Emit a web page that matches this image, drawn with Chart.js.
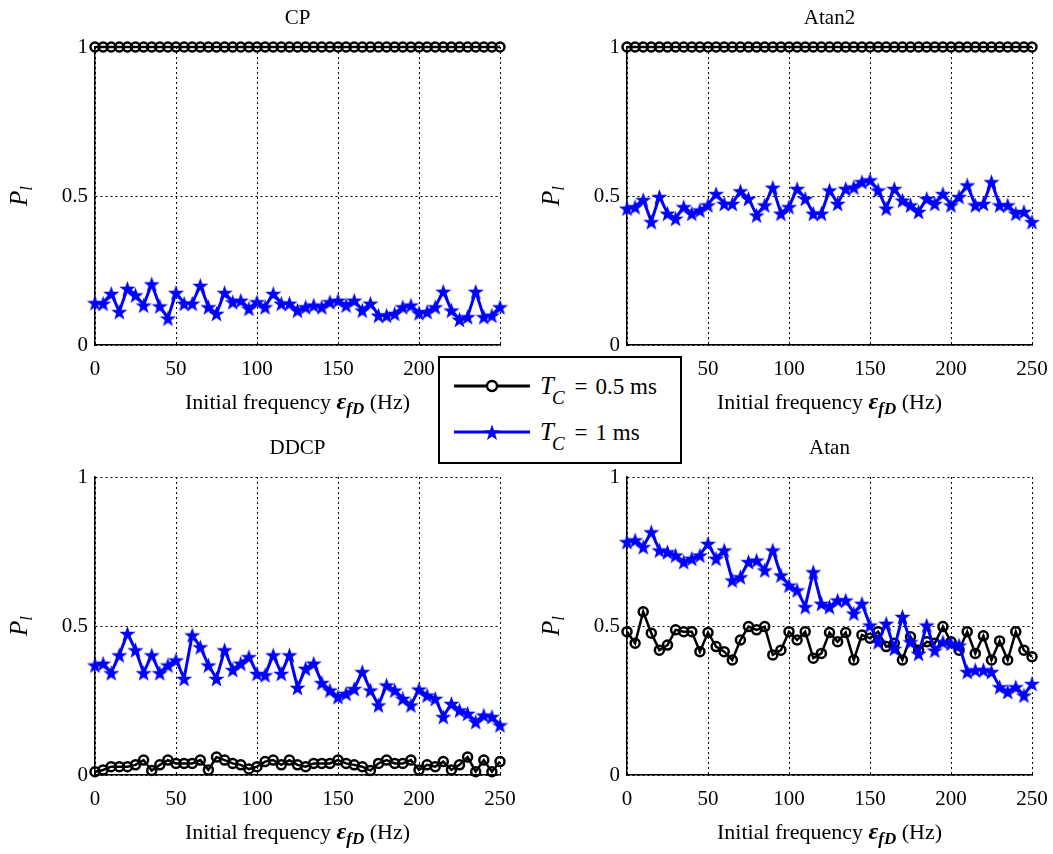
<!DOCTYPE html>
<html>
<head>
<meta charset="utf-8">
<script src="https://cdn.jsdelivr.net/npm/chart.js@4"></script>
<style>
  html, body { margin: 0; padding: 0; background: #fff; }
  #wrap { position: relative; width: 1053px; height: 854px; overflow: hidden; }
  .panel { position: absolute; }
  #legend {
    position: absolute; left: 438px; top: 356px; width: 240px; height: 104px;
    border: 2px solid #000; background: #fff;
    font-family: "Liberation Serif", serif; font-size: 23px; color: #000;
  }
  #legend .row { position: absolute; left: 12px; height: 30px; }
  #legend svg { position: absolute; left: 0; top: 0; }
  #legend .txt { position: absolute; left: 88px; top: 0; white-space: nowrap; line-height: 30px; }
  #legend i { font-style: italic; font-size: 25px; }
  #legend sub { font-style: italic; font-size: 19px; vertical-align: -10px; line-height: 0; margin-left: -2px; }
  #legend .eq { margin: 0 8px 0 10px; }
</style>
</head>
<body>
<div id="wrap">
  <canvas class="panel" id="cp" style="left:0;top:0"></canvas>
  <canvas class="panel" id="atan2" style="left:526px;top:0"></canvas>
  <canvas class="panel" id="ddcp" style="left:0;top:427px"></canvas>
  <canvas class="panel" id="atan" style="left:526px;top:427px"></canvas>
  <div id="legend">
    <div class="row" style="top:13px">
      <svg width="80" height="30"><line x1="2" y1="15" x2="78" y2="15" stroke="#000" stroke-width="3"/><circle cx="40" cy="15" r="5" fill="#fff" stroke="#000" stroke-width="2.5"/></svg>
      <div class="txt"><i>T</i><sub>C</sub><span class="eq">=</span>0.5 ms</div>
    </div>
    <div class="row" style="top:59px">
      <svg width="80" height="30"><line x1="2" y1="15" x2="78" y2="15" stroke="#0000ff" stroke-width="3"/><polygon id="legStar" fill="#0000ff"/></svg>
      <div class="txt"><i>T</i><sub>C</sub><span class="eq">=</span>1 ms</div>
    </div>
  </div>
</div>
<script>
// frequency offsets (Hz)
var freq = [0, 5, 10, 15, 20, 25, 30, 35, 40, 45, 50, 55, 60, 65, 70, 75, 80, 85, 90, 95,
  100, 105, 110, 115, 120, 125, 130, 135, 140, 145, 150, 155, 160, 165, 170, 175, 180, 185, 190, 195,
  200, 205, 210, 215, 220, 225, 230, 235, 240, 245, 250];

var xTicks = [0, 50, 100, 150, 200, 250];
var yTicks = [0, 0.5, 1];

// CP
var cpHalf = [1, 1, 1, 1, 1, 1, 1, 1, 1, 1, 1, 1, 1, 1, 1, 1, 1, 1, 1, 1, 1, 1, 1, 1, 1, 1,
  1, 1, 1, 1, 1, 1, 1, 1, 1, 1, 1, 1, 1, 1, 1, 1, 1, 1, 1, 1, 1, 1, 1, 1, 1];
var cpOne = [0.142, 0.14, 0.173, 0.112, 0.19, 0.168, 0.134, 0.205, 0.131, 0.09, 0.176, 0.14, 0.14,
  0.2, 0.128, 0.106, 0.176, 0.145, 0.15, 0.123, 0.145, 0.128, 0.173, 0.14, 0.14, 0.117, 0.128,
  0.134, 0.128, 0.145, 0.15, 0.134, 0.15, 0.117, 0.14, 0.1, 0.1, 0.106, 0.128, 0.134, 0.108,
  0.112, 0.128, 0.18, 0.117, 0.086, 0.095, 0.18, 0.095, 0.1, 0.128];

// Atan2
var atan2Half = [1, 1, 1, 1, 1, 1, 1, 1, 1, 1, 1, 1, 1, 1, 1, 1, 1, 1, 1, 1, 1, 1, 1, 1, 1, 1,
  1, 1, 1, 1, 1, 1, 1, 1, 1, 1, 1, 1, 1, 1, 1, 1, 1, 1, 1, 1, 1, 1, 1, 1, 1];
var atan2One = [0.459, 0.464, 0.488, 0.414, 0.498, 0.442, 0.425, 0.464, 0.442, 0.453, 0.47, 0.508,
  0.475, 0.475, 0.517, 0.492, 0.436, 0.47, 0.529, 0.442, 0.464, 0.525, 0.492, 0.442, 0.442, 0.52,
  0.475, 0.525, 0.53, 0.548, 0.554, 0.52, 0.459, 0.525, 0.486, 0.47, 0.448, 0.492, 0.475, 0.508,
  0.47, 0.498, 0.537, 0.47, 0.475, 0.548, 0.47, 0.47, 0.442, 0.448, 0.414];

// DDCP
var ddcpHalf = [0.011, 0.017, 0.028, 0.028, 0.028, 0.034, 0.05, 0.015, 0.034, 0.05, 0.039, 0.039,
  0.039, 0.05, 0.017, 0.06, 0.05, 0.039, 0.034, 0.02, 0.028, 0.045, 0.05, 0.034, 0.05, 0.034,
  0.028, 0.039, 0.039, 0.039, 0.05, 0.039, 0.034, 0.028, 0.015, 0.039, 0.05, 0.039, 0.039, 0.05,
  0.017, 0.034, 0.028, 0.045, 0.017, 0.034, 0.06, 0.011, 0.05, 0.011, 0.045];
var ddcpOne = [0.369, 0.375, 0.343, 0.403, 0.475, 0.42, 0.343, 0.403, 0.343, 0.369, 0.386, 0.324,
  0.47, 0.43, 0.369, 0.324, 0.42, 0.354, 0.375, 0.397, 0.341, 0.336, 0.403, 0.341, 0.403, 0.294,
  0.358, 0.375, 0.31, 0.285, 0.263, 0.274, 0.29, 0.347, 0.285, 0.235, 0.302, 0.285, 0.257, 0.235,
  0.288, 0.268, 0.257, 0.196, 0.24, 0.218, 0.207, 0.179, 0.201, 0.196, 0.168];

// Atan
var atanHalf = [0.481, 0.442, 0.548, 0.476, 0.419, 0.436, 0.487, 0.481, 0.481, 0.414, 0.478, 0.431,
  0.414, 0.386, 0.453, 0.498, 0.487, 0.498, 0.403, 0.419, 0.481, 0.453, 0.481, 0.392, 0.408, 0.478,
  0.447, 0.478, 0.386, 0.47, 0.459, 0.481, 0.431, 0.442, 0.386, 0.464, 0.419, 0.447, 0.442, 0.498,
  0.447, 0.419, 0.481, 0.408, 0.467, 0.386, 0.45, 0.386, 0.481, 0.419, 0.397];
var atanOne = [0.783, 0.789, 0.766, 0.816, 0.755, 0.749, 0.738, 0.716, 0.727, 0.738, 0.777, 0.727,
  0.755, 0.654, 0.665, 0.716, 0.721, 0.688, 0.755, 0.671, 0.637, 0.621, 0.565, 0.682, 0.576, 0.565,
  0.587, 0.587, 0.543, 0.576, 0.503, 0.447, 0.509, 0.425, 0.532, 0.447, 0.408, 0.503, 0.419, 0.447,
  0.442, 0.436, 0.347, 0.353, 0.353, 0.347, 0.296, 0.28, 0.296, 0.268, 0.307];

var SERIF = '"Liberation Serif", "DejaVu Serif", serif';
var BLUE = '#0000ff';

function starPoints(cx, cy, R) {
  var pts = [];
  for (var k = 0; k < 10; k++) {
    var r = k % 2 ? R * 0.4 : R;
    var a = -Math.PI / 2 + k * Math.PI / 5;
    pts.push([cx + r * Math.cos(a), cy + r * Math.sin(a)]);
  }
  return pts;
}

function makeStar(size, color) {
  var c = document.createElement('canvas');
  c.width = size; c.height = size;
  var g = c.getContext('2d');
  g.fillStyle = color;
  g.beginPath();
  starPoints(size / 2, size / 2 + 1, size / 2).forEach(function (p) { g.lineTo(p[0], p[1]); });
  g.closePath();
  g.fill();
  return c;
}
var starImg = makeStar(17, BLUE);
document.getElementById('legStar').setAttribute('points',
  starPoints(40, 16, 8.5).map(function (p) { return p[0].toFixed(1) + ',' + p[1].toFixed(1); }).join(' '));

function toXY(vals) {
  return vals.map(function (v, i) { return { x: freq[i], y: v }; });
}

function drawRich(ctx, parts, cx, cy) {
  var total = 0;
  parts.forEach(function (p) { ctx.font = p.font; p.w = ctx.measureText(p.text).width; total += p.w; });
  var x = cx - total / 2;
  parts.forEach(function (p) {
    ctx.font = p.font;
    ctx.fillText(p.text, x, cy + (p.dy || 0));
    x += p.w;
  });
}

var panelText = {
  id: 'panelText',
  afterDraw: function (chart, args, opts) {
    var ctx = chart.ctx, a = chart.chartArea;
    var cx = (a.left + a.right) / 2;
    ctx.save();
    ctx.fillStyle = '#000';
    ctx.textBaseline = 'middle';
    ctx.textAlign = 'left';
    drawRich(ctx, [{ text: opts.title, font: '21px ' + SERIF }], cx, a.top - 29);
    drawRich(ctx, [
      { text: 'Initial frequency ', font: '22px ' + SERIF },
      { text: 'ε', font: 'italic bold 24px ' + SERIF },
      { text: 'fD', font: 'italic bold 17px ' + SERIF, dy: 7 },
      { text: ' (Hz)', font: '22px ' + SERIF }
    ], cx, a.bottom + 58);
    ctx.translate(a.left - 75, (a.top + a.bottom) / 2);
    ctx.rotate(-Math.PI / 2);
    drawRich(ctx, [
      { text: 'P', font: 'italic 25px ' + SERIF },
      { text: 'l', font: 'italic 17px ' + SERIF, dy: 8 }
    ], 0, 0);
    ctx.restore();
  }
};

function makePanel(id, title, half, one, box) {
  var canvas = document.getElementById(id);
  canvas.width = box.w; canvas.height = box.h;
  canvas.style.width = box.w + 'px'; canvas.style.height = box.h + 'px';
  return new Chart(canvas, {
    type: 'line',
    data: {
      datasets: [
        {
          label: 'T_C = 1 ms',
          data: toXY(one),
          borderColor: BLUE,
          borderWidth: 3,
          pointStyle: starImg,
          pointRadius: 8,
          clip: false
        },
        {
          label: 'T_C = 0.5 ms',
          data: toXY(half),
          borderColor: '#000',
          backgroundColor: 'rgba(255,255,255,0)',
          borderWidth: 2.5,
          pointStyle: 'circle',
          pointRadius: 4.5,
          pointBorderWidth: 2.5,
          clip: false
        }
      ]
    },
    options: {
      responsive: false,
      animation: false,
      devicePixelRatio: 1,
      layout: { padding: { left: 0, right: box.padR, top: box.padT, bottom: 0 } },
      plugins: {
        legend: { display: false },
        tooltip: { enabled: false },
        panelText: { title: title }
      },
      scales: {
        x: {
          type: 'linear',
          min: 0, max: 250,
          afterBuildTicks: function (s) { s.ticks = xTicks.map(function (v) { return { value: v }; }); },
          afterFit: function (s) { s.height = box.xh; s.paddingLeft = 0; s.paddingRight = 0; },
          ticks: { color: '#000', padding: 12, maxRotation: 0, font: { family: SERIF, size: 21 } },
          grid: { color: '#000', lineWidth: 1, tickLength: 0 },
          border: { color: '#000', width: 1.5, dash: [2, 3] }
        },
        y: {
          min: 0, max: 1,
          afterBuildTicks: function (s) { s.ticks = yTicks.map(function (v) { return { value: v }; }); },
          afterFit: function (s) { s.width = box.yw; s.paddingTop = 0; s.paddingBottom = 0; },
          ticks: {
            color: '#000', padding: 7, font: { family: SERIF, size: 21 },
            callback: function (v) { return String(v); }
          },
          grid: { color: '#000', lineWidth: 1, tickLength: 0 },
          border: { color: '#000', width: 1.5, dash: [2, 3] }
        }
      }
    },
    plugins: [panelText]
  });
}

makePanel('cp', 'CP', cpHalf, cpOne, { w: 526, h: 427, padR: 26, padT: 47, yw: 95, xh: 82 });
makePanel('atan2', 'Atan2', atan2Half, atan2One, { w: 527, h: 427, padR: 21, padT: 47, yw: 101, xh: 82 });
makePanel('ddcp', 'DDCP', ddcpHalf, ddcpOne, { w: 526, h: 427, padR: 26, padT: 50, yw: 95, xh: 79 });
makePanel('atan', 'Atan', atanHalf, atanOne, { w: 527, h: 427, padR: 21, padT: 50, yw: 101, xh: 79 });
</script>
</body>
</html>
